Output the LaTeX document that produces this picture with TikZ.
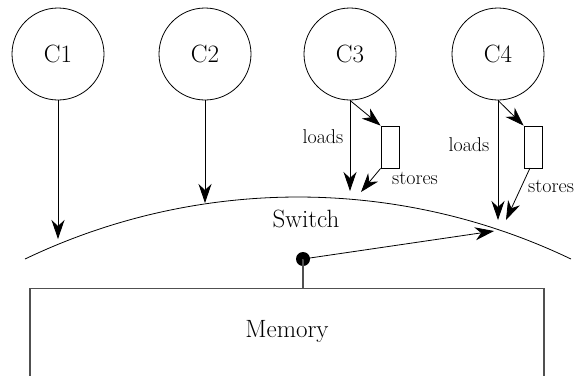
\documentclass[tikz,border=0pt]{standalone}
\usetikzlibrary{arrows.meta}
\definecolor{boxgray}{HTML}{505050}
\begin{document}
\begin{tikzpicture}[x=1pt,y=-1pt,
  cpu/.style={draw, circle, line width=0.8pt, minimum size=92pt, inner sep=0pt, font=\fontsize{25}{30}\selectfont},
  buf/.style={draw, line width=0.8pt, minimum width=18pt, minimum height=42pt, inner sep=0pt},
  lbl/.style={font=\fontsize{20}{24}\selectfont, inner sep=0pt},
  big/.style={font=\fontsize{25}{30}\selectfont, inner sep=0pt},
  arr/.style={line width=0.8pt, -{Stealth[length=19pt,width=13pt,inset=6pt]}},
  memstyle/.style={draw=boxgray, line width=1.2pt, minimum width=514pt, minimum height=100pt, inner sep=0pt}
]
\useasboundingbox (0,0) rectangle (575,375);
\clip (0,0) rectangle (575,375);

% CPUs
\node[cpu] (c1) at (58,54) {C1};
\node[cpu] (c2) at (205,54) {C2};
\node[cpu] (c3) at (350,54) {C3};
\node[cpu] (c4) at (498,54) {C4};

% store buffers
\node[buf] (b3) at (390,147) {};
\node[buf] (b4) at (533,147) {};

% switch curve
\draw[line width=0.8pt] plot[domain=25:571, samples=150, smooth] (\x, {829 - 100*sqrt(39.94 - ((\x-298)/100)^2)});
\node[big] (sw) at (306,219) {Switch};

% arrow targets on the switch
\coordinate (t1) at (58,239);
\coordinate (t2) at (205,203);
\coordinate (t3l) at (350,191);
\coordinate (t3s) at (361,192);
\coordinate (t4l) at (498,220);
\coordinate (t4s) at (506,220);
\coordinate (t5) at (494,231);
\coordinate (b4out) at (530,168);

% memory
\node[memstyle, anchor=north] (mem) at (287,288) {};
\node[big] (memlbl) at (287,331) {Memory};
\node[circle, fill=black, minimum size=14pt, inner sep=0pt] (dot) at (303,259) {};

% connectors
\draw[arr] (c1.south) -- (t1);
\draw[arr] (c2.south) -- (t2);
\draw[arr] (c3.south) -- (t3l);
\draw[arr] (c3.south) -- (b3.north west);
\draw[arr] (b3.south west) -- (t3s);
\draw[arr] (c4.south) -- (t4l);
\draw[arr] (c4.south) -- (b4.north west);
\draw[arr] (b4out) -- (t4s);
\draw[draw=boxgray, line width=1.2pt] (dot.center) -- (dot.center |- mem.north);
\draw[arr] (dot.center) -- (t5);

% labels
\node[lbl] (l3) at (323,137) {loads};
\node[lbl] (s3) at (415,178) {stores};
\node[lbl] (l4) at (469,145) {loads};
\node[lbl, anchor=west] (s4) at (528,186) {stores};
\end{tikzpicture}
\end{document}
